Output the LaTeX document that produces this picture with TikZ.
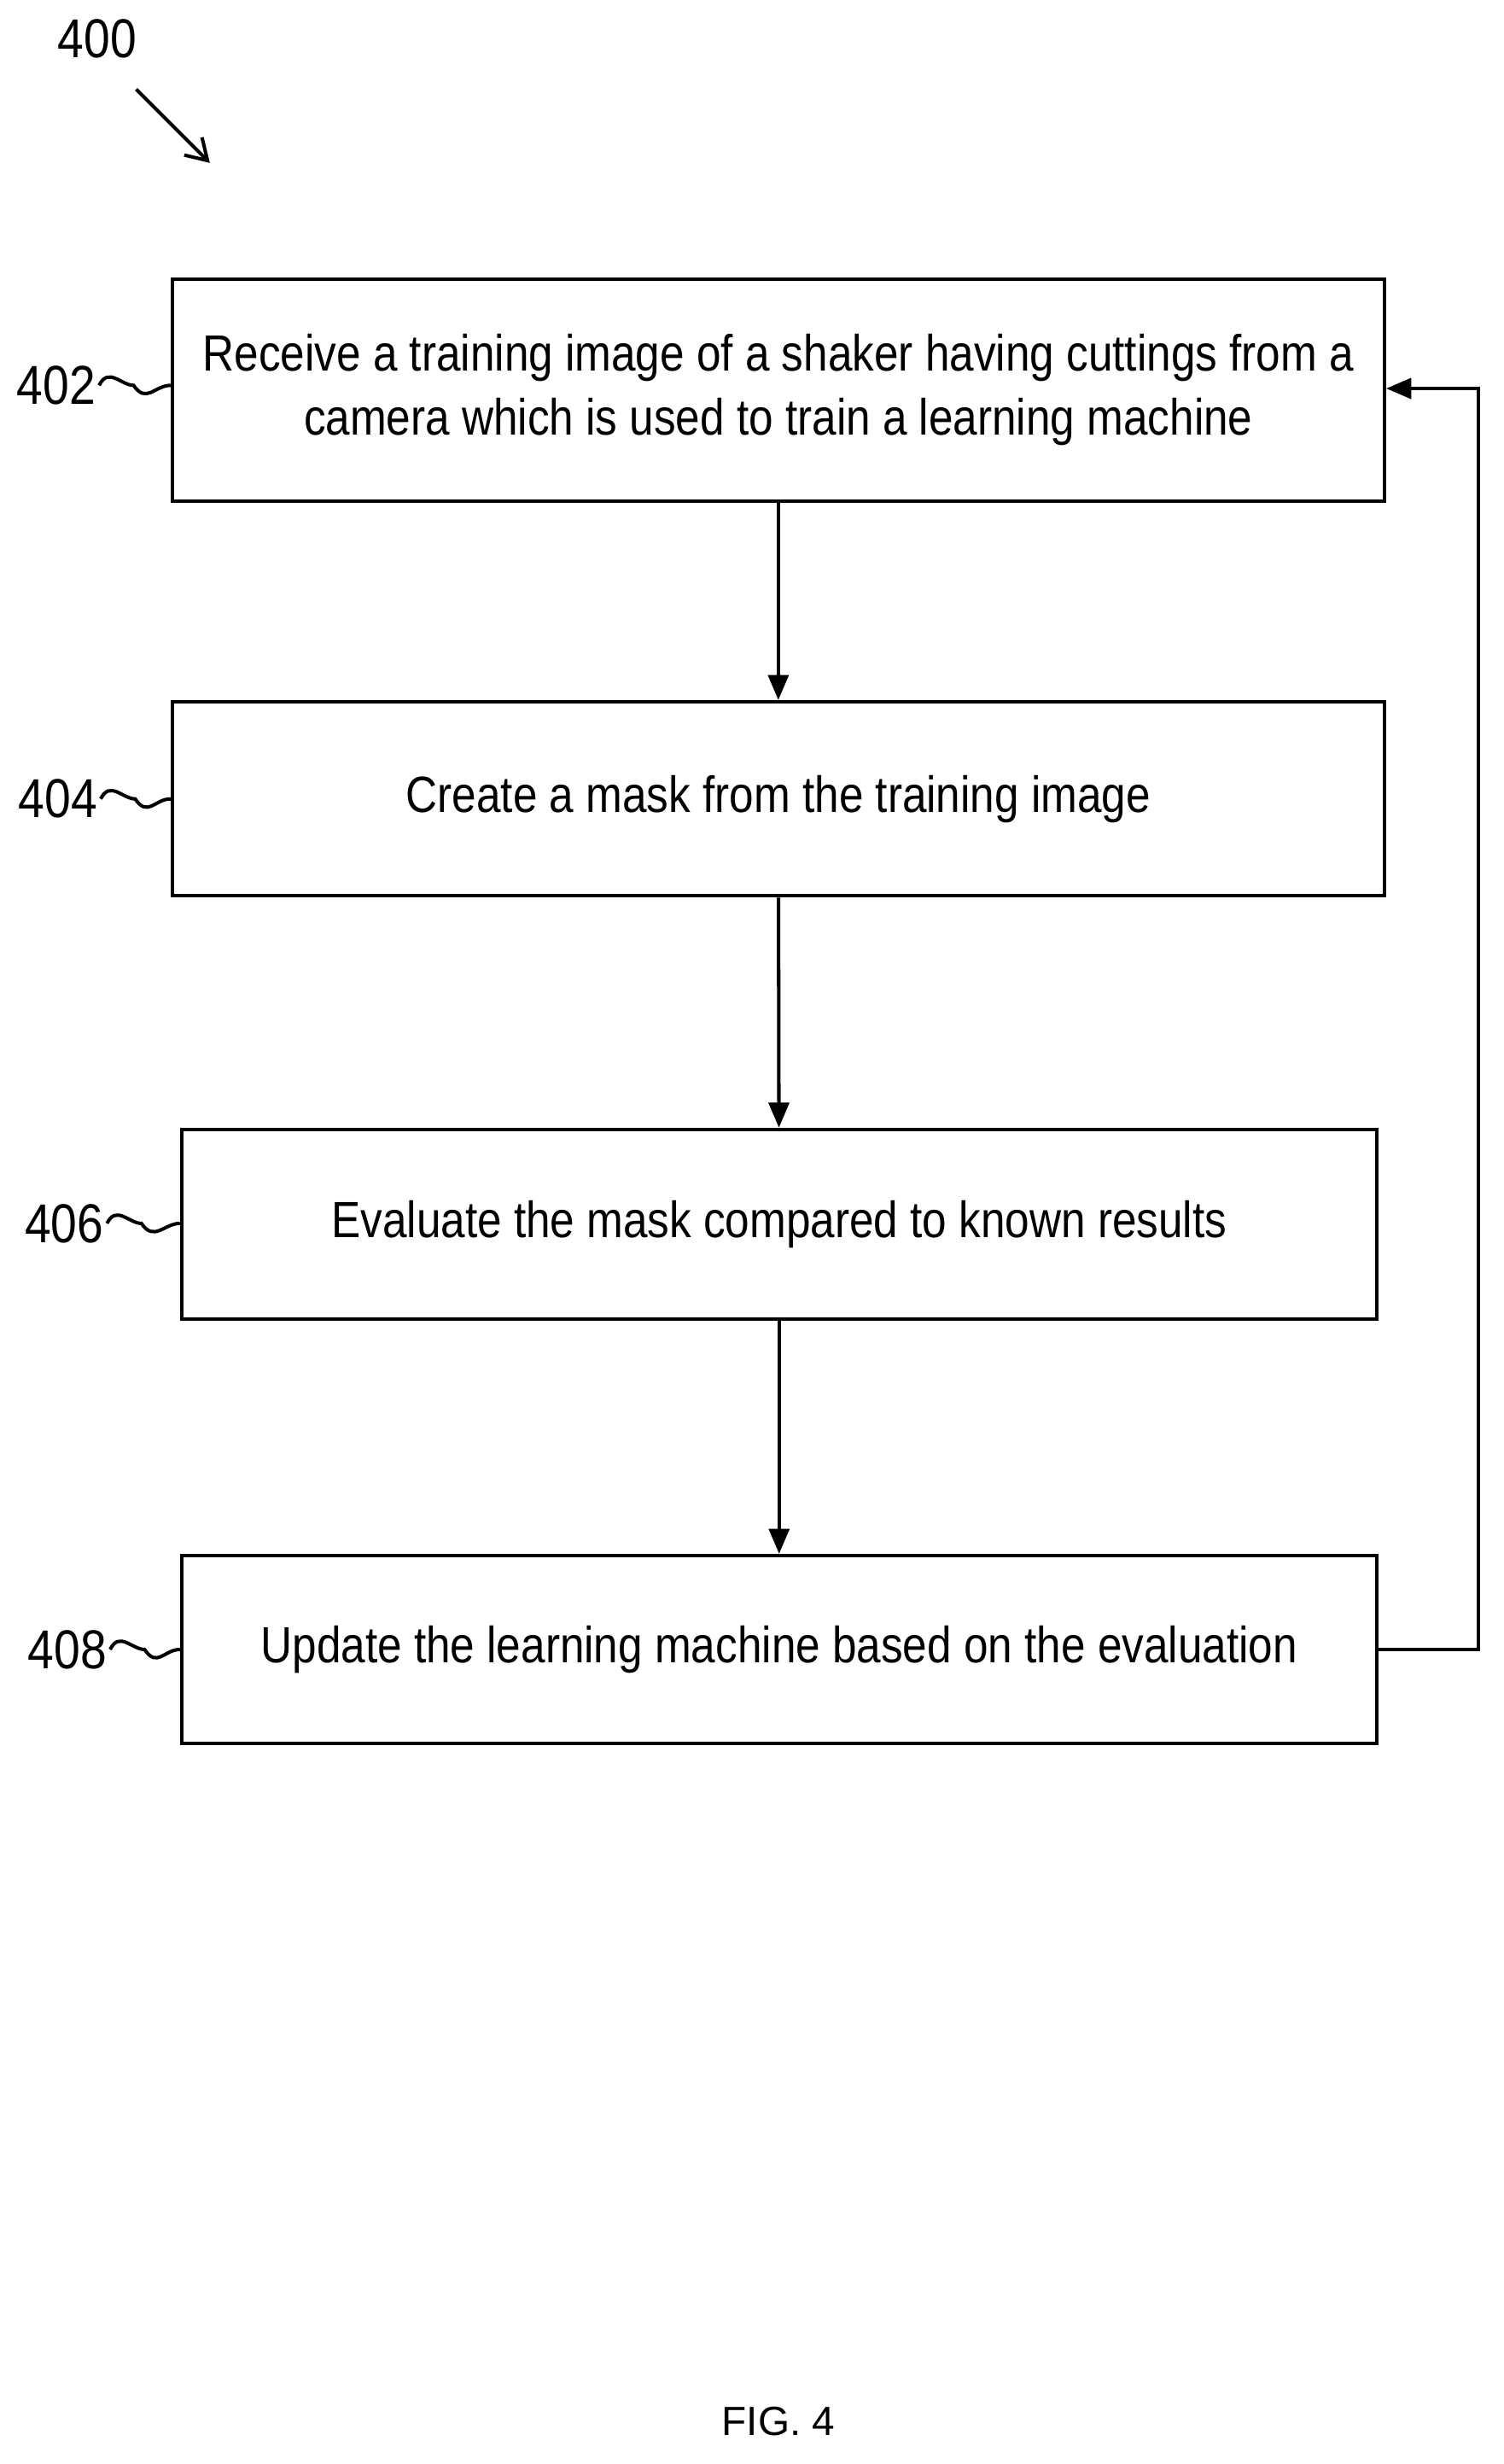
\documentclass[tikz,border=0pt]{standalone}
\usepackage{fontspec}
\setmainfont{Liberation Sans}[FakeStretch=0.86]
\newfontfamily\figfont{Liberation Sans}
\usetikzlibrary{arrows.meta}
\begin{document}
\begin{tikzpicture}[x=1pt,y=-1pt,
  box/.style={draw,line width=2.2pt,inner sep=0pt,align=center,font=\fontsize{32.5}{41}\selectfont},
  lab/.style={font=\fontsize{35}{40}\selectfont,inner sep=0pt},
  arr/.style={line width=2.2pt,-{Triangle[length=16pt,width=13pt]}},
  sq/.style={line width=2.2pt}]
\useasboundingbox (0,0) rectangle (960,1573);
\node[box,minimum width=774pt,minimum height=142pt] (b402) at (497,249) {Receive a training image of a shaker having cuttings from a\\camera which is used to train a learning machine};
\node[box,minimum width=774pt,minimum height=124pt] (b404) at (497,510) {Create a mask from the training image};
\node[box,minimum width=763pt,minimum height=121pt] (b406) at (497.5,781.5) {Evaluate the mask compared to known results};
\node[box,minimum width=763pt,minimum height=120pt] (b408) at (497.5,1053) {Update the learning machine based on the evaluation};
\draw[arr] (b402) -- (b404);
\draw[arr] (b404) -- (b406);
\draw[arr] (b406) -- (b408);
\coordinate (c1) at (944,1053);
\coordinate (c2) at (944,248);
\draw[arr] (b408.east) -- (c1) -- (c2) -- (b402.east|-c2);
\node[lab] (l402) at (36,246) {402};
\node[lab] (l404) at (37,510) {404};
\node[lab] (l406) at (41,781) {406};
\node[lab] (l408) at (43,1053) {408};
\foreach \n/\b in {402/b402,404/b404,406/b406,408/b408}{
  \draw[sq] (l\n.east) ++(2,0) .. controls +(6,-12) and +(-8,0) .. +(22,0) .. controls +(8,12) and +(-10,0) .. (\b.west|-l\n.east);
}
\node[lab] (l400) at (62,25) {400};
\coordinate (a1) at (87,57);
\coordinate (a2) at (134,104);
\draw[line width=2.2pt,-{Straight Barb[length=13pt,width=16pt]}] (a1) -- (a2);
\node[font=\figfont\fontsize{26}{30}\selectfont] (fig) at (497,1546) {FIG. 4};
\end{tikzpicture}
\end{document}
